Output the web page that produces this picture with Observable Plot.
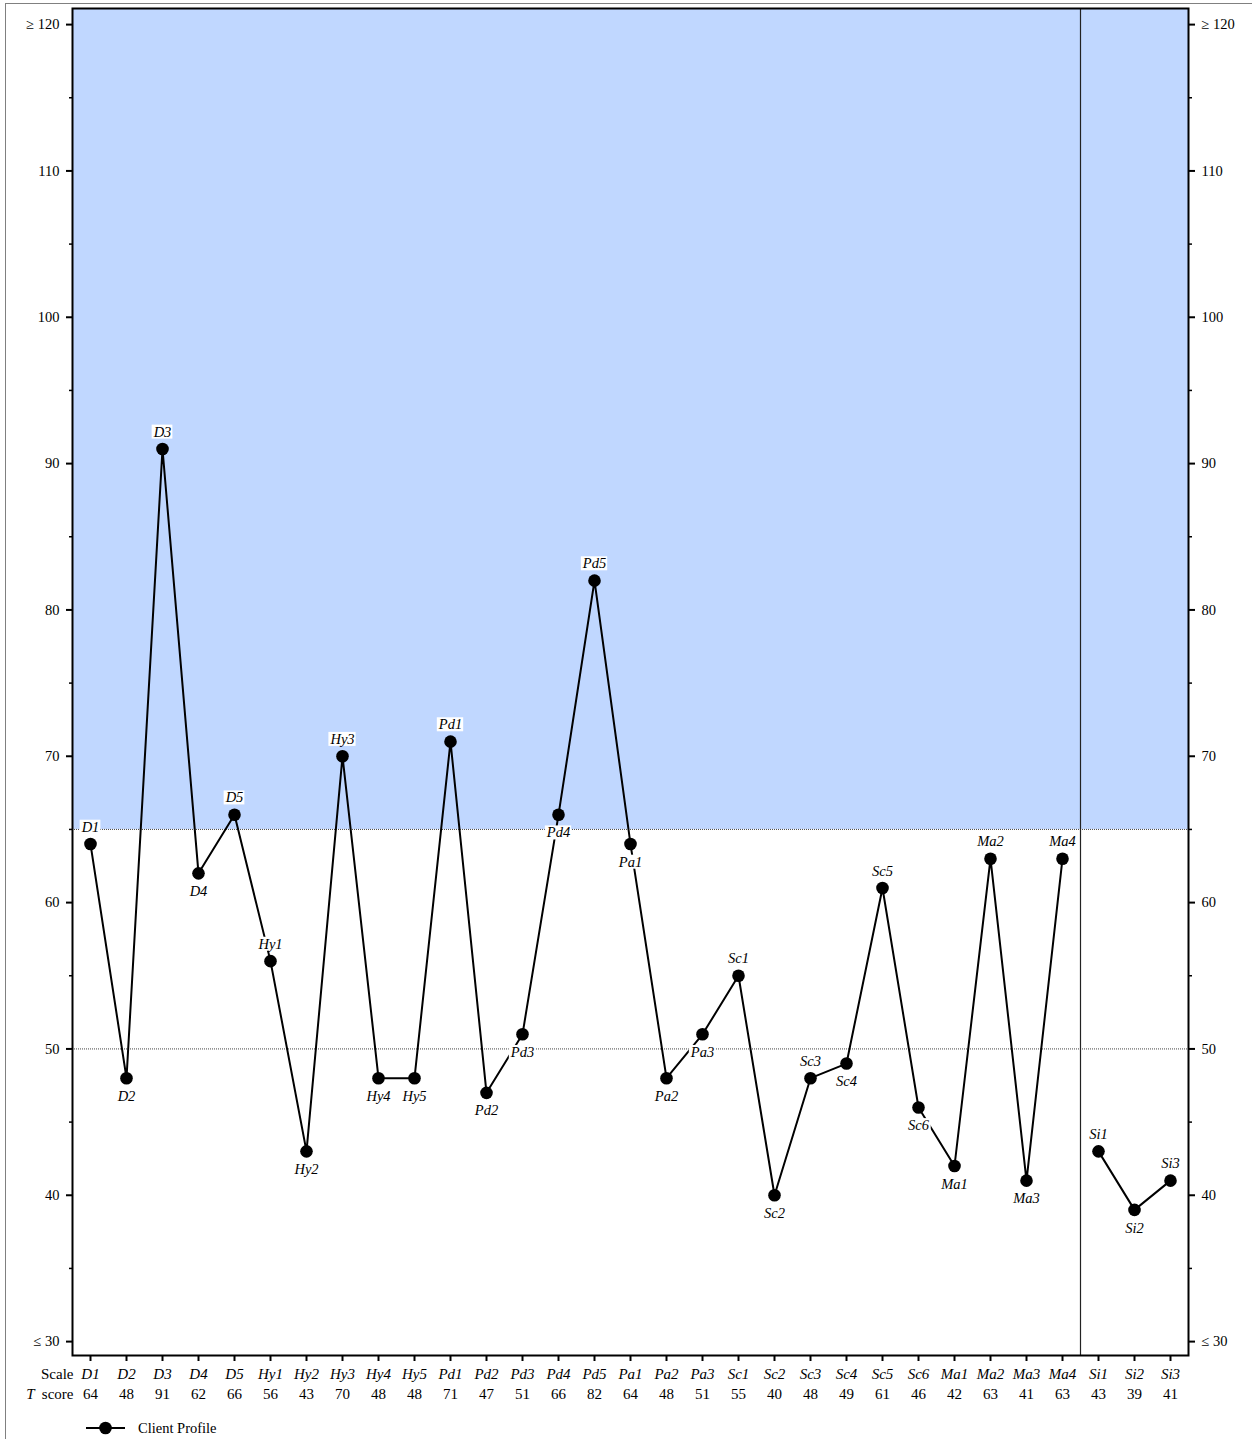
<!DOCTYPE html>
<html>
<head>
<meta charset="utf-8">
<script src="https://cdn.jsdelivr.net/npm/d3@7"></script>
<script src="https://cdn.jsdelivr.net/npm/@observablehq/plot@0.6"></script>
<style>
  html, body { margin: 0; padding: 0; background: #fff; }
  body { width: 1252px; height: 1439px; position: relative; overflow: hidden; font-family: "Liberation Serif", "Times New Roman", serif; }
  #border { position: absolute; left: 5px; top: 3px; width: 1400px; height: 1600px; border-left: 1.5px solid #808080; border-top: 1.5px solid #808080; }
  #chart { position: absolute; left: 0; top: 0; }
  #legend { position: absolute; left: 86px; top: 1418px; height: 20px; display: flex; align-items: center; font-size: 14.5px; color: #000; }
  #legend span { margin-left: 13px; }
</style>
</head>
<body>
<div id="border"></div>
<div id="chart"></div>
<div id="legend">
  <svg width="39" height="20"><line x1="0" y1="10" x2="39" y2="10" stroke="#000" stroke-width="2"></line><circle cx="19.5" cy="10" r="6.3" fill="#000"></circle></svg>
  <span>Client Profile</span>
</div>
<script>
// ---- data ----
const scales = ["D1","D2","D3","D4","D5","Hy1","Hy2","Hy3","Hy4","Hy5","Pd1","Pd2","Pd3","Pd4","Pd5","Pa1","Pa2","Pa3","Sc1","Sc2","Sc3","Sc4","Sc5","Sc6","Ma1","Ma2","Ma3","Ma4","Si1","Si2","Si3"];
const tScores = [64,48,91,62,66,56,43,70,48,48,71,47,51,66,82,64,48,51,55,40,48,49,61,46,42,63,41,63,43,39,41];
const labelSide = ["above","below","above","below","above","above","below","above","below","below","above","below","below","below","above","below","below","below","above","below","above","below","above","below","below","above","below","above","above","below","above"];
const yTicks = [30,40,50,60,70,80,90,100,110,120];
const yMinorTicks = [35,45,55,65,75,85,95,105,115];
const elevatedCut = 65;
const meanLine = 50;
const separateGroupStart = "Si1";

const sepIndex = scales.indexOf(separateGroupStart);
const data = scales.map((s, i) => ({
  i, scale: s, t: tScores[i],
  group: i < sepIndex ? "main" : "si",
  side: labelSide[i]
}));

const yDomain = [29.05, 121.1];
const serif = "Liberation Serif, Times New Roman, serif";
const fmtY = d => d === 120 ? "≥ 120" : d === 30 ? "≤ 30" : String(d);

const plot = Plot.plot({
  width: 1252,
  height: 1412,
  marginLeft: 72,
  marginRight: 64,
  marginTop: 8,
  marginBottom: 57,
  style: { fontFamily: serif, fontSize: "14px", background: "transparent", color: "#000" },
  x: { domain: [-0.5, scales.length - 0.5], axis: null, label: null },
  y: { domain: yDomain, axis: null, label: null },
  marks: [
    Plot.rect([0], { y1: elevatedCut, y2: yDomain[1], fill: "#c0d7ff" }),
    Plot.ruleY([elevatedCut, meanLine], { stroke: "#444", strokeWidth: 1, strokeDasharray: "1,1" }),
    Plot.ruleX([sepIndex - 0.5], { stroke: "#222", strokeWidth: 1.2 }),
    Plot.line(data, { x: "i", y: "t", z: "group", stroke: "#000", strokeWidth: 2 }),
    Plot.text(data.filter(d => d.side === "above"), { x: "i", y: "t", text: "scale", dy: -17, fontStyle: "italic", fontSize: 14.5, fill: "#000", ariaLabel: () => "ptlabels" }),
    Plot.text(data.filter(d => d.side === "below"), { x: "i", y: "t", text: "scale", dy: 18, fontStyle: "italic", fontSize: 14.5, fill: "#000", ariaLabel: () => "ptlabels" }),
    Plot.dot(data, { x: "i", y: "t", r: 6.3, fill: "#000", stroke: null }),
    Plot.frame({ stroke: "#000", strokeWidth: 2 }),
    // y axes
    Plot.axisY(yTicks, { anchor: "left", label: null, tickSize: 6, tickPadding: 7, strokeWidth: 2, fontSize: 14.5, tickFormat: fmtY }),
    Plot.axisY(yTicks, { anchor: "right", label: null, tickSize: 6, tickPadding: 7, strokeWidth: 2, fontSize: 14.5, tickFormat: fmtY }),
    Plot.axisY(yMinorTicks, { anchor: "left", label: null, tickSize: 3, strokeWidth: 1.5, tickFormat: () => "" }),
    Plot.axisY(yMinorTicks, { anchor: "right", label: null, tickSize: 3, strokeWidth: 1.5, tickFormat: () => "" }),
    // x ticks
    Plot.axisX(data.map(d => d.i), { anchor: "bottom", label: null, tickSize: 6, strokeWidth: 2, tickFormat: () => "" }),
    // scale row and T score row
    Plot.text(data, { x: "i", text: "scale", frameAnchor: "bottom", dy: 23, fontStyle: "italic", fontSize: 15, fill: "#000" }),
    Plot.text(data, { x: "i", text: d => String(d.t), frameAnchor: "bottom", dy: 43, fontSize: 15, fill: "#000" }),
    Plot.text(["Scale"], { frameAnchor: "bottom-left", dx: 1, dy: 23, textAnchor: "end", fontSize: 15, fill: "#000" }),
    Plot.text(["score"], { frameAnchor: "bottom-left", dx: 1, dy: 43, textAnchor: "end", fontSize: 15, fill: "#000" }),
    Plot.text(["T"], { frameAnchor: "bottom-left", dx: -38, dy: 43, textAnchor: "end", fontStyle: "italic", fontSize: 15, fill: "#000" })
  ]
});
document.getElementById("chart").appendChild(plot);

// white background boxes behind point labels
plot.querySelectorAll('text[aria-label="ptlabels"]').forEach(t => {
  const b = t.getBBox();
  const r = document.createElementNS("http://www.w3.org/2000/svg", "rect");
  r.setAttribute("x", b.x - 1);
  r.setAttribute("y", b.y + 1);
  r.setAttribute("width", b.width + 2);
  r.setAttribute("height", b.height - 2);
  r.setAttribute("fill", "#fff");
  if (t.getAttribute("transform")) r.setAttribute("transform", t.getAttribute("transform"));
  t.parentNode.insertBefore(r, t);
});
</script>
</body>
</html>
